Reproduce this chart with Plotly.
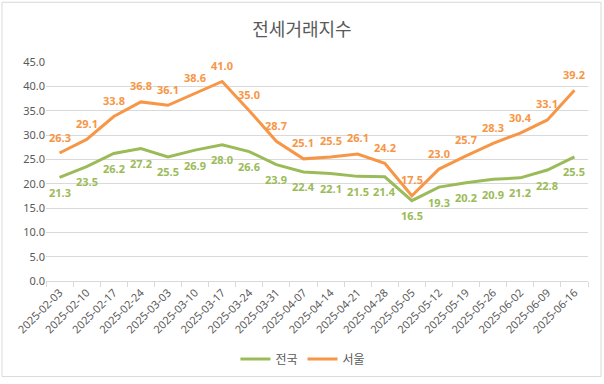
import plotly.graph_objects as go

dates = ["2025-02-03", "2025-02-10", "2025-02-17", "2025-02-24", "2025-03-03",
         "2025-03-10", "2025-03-17", "2025-03-24", "2025-03-31", "2025-04-07",
         "2025-04-14", "2025-04-21", "2025-04-28", "2025-05-05", "2025-05-12",
         "2025-05-19", "2025-05-26", "2025-06-02", "2025-06-09", "2025-06-16"]
nation = [21.3, 23.5, 26.2, 27.2, 25.5, 26.9, 28.0, 26.6, 23.9, 22.4,
          22.1, 21.5, 21.4, 16.5, 19.3, 20.2, 20.9, 21.2, 22.8, 25.5]
seoul = [26.3, 29.1, 33.8, 36.8, 36.1, 38.6, 41.0, 35.0, 28.7, 25.1,
         25.5, 26.1, 24.2, 17.5, 23.0, 25.7, 28.3, 30.4, 33.1, 39.2]

GREEN = "#9BBB59"
ORANGE = "#F79646"
GRAY = "#595959"
GRID = "#D9D9D9"
FONT = "Noto Sans, Noto Sans CJK KR, sans-serif"

fig = go.Figure()
fig.add_trace(go.Scatter(x=dates, y=nation, mode="lines", name="전국",
                         line=dict(color=GREEN, width=3)))
fig.add_trace(go.Scatter(x=dates, y=seoul, mode="lines", name="서울",
                         line=dict(color=ORANGE, width=3)))

annotations = []
for d, v in zip(dates, nation):
    annotations.append(dict(x=d, y=v, text=f"{v:.1f}", showarrow=False, yshift=-15,
                            font=dict(family=FONT, size=11, color=GREEN, weight="bold")))
for d, v in zip(dates, seoul):
    annotations.append(dict(x=d, y=v, text=f"{v:.1f}", showarrow=False, yshift=16,
                            font=dict(family=FONT, size=11, color=ORANGE, weight="bold")))

fig.update_layout(
    width=604, height=384,
    margin=dict(l=46, r=16, t=62, b=102),
    paper_bgcolor="white", plot_bgcolor="white",
    font=dict(family=FONT, size=11, color=GRAY),
    title=dict(text="전세거래지수", x=0.5, xref="container", xanchor="center",
               y=1 - 30 / 384, yref="container", yanchor="middle",
               font=dict(family="Noto Sans CJK KR, sans-serif", size=18, color=GRAY)),
    showlegend=True,
    legend=dict(orientation="h", x=0.474, xanchor="center", y=-0.35, yanchor="middle",
                font=dict(family="Noto Sans CJK KR, sans-serif", size=12, color=GRAY),
                bgcolor="rgba(0,0,0,0)"),
    annotations=annotations,
    shapes=[dict(type="rect", xref="paper", yref="paper",
                 x0=(2 - 46) / 542, x1=(601 - 46) / 542,
                 y0=(282 - 378) / 220, y1=(282 - 2) / 220,
                 line=dict(color=GRID, width=1), fillcolor="rgba(0,0,0,0)", layer="below")],
)
fig.update_xaxes(type="category", range=[-0.5, len(dates) - 0.5], tickangle=-45,
                 showgrid=False, showline=True, linecolor=GRID, linewidth=1,
                 ticks="outside", tickson="boundaries", ticklen=5, tickcolor=GRID,
                 tickfont=dict(size=11, color=GRAY))
fig.update_yaxes(range=[0, 45], dtick=5, tickformat=".1f", showgrid=True, gridcolor=GRID,
                 gridwidth=1, zeroline=False, showline=False,
                 tickfont=dict(size=11, color=GRAY))

fig.write_html("out.html", config={"displayModeBar": False},
               post_script="document.body.style.margin='0';document.body.style.padding='0';")
